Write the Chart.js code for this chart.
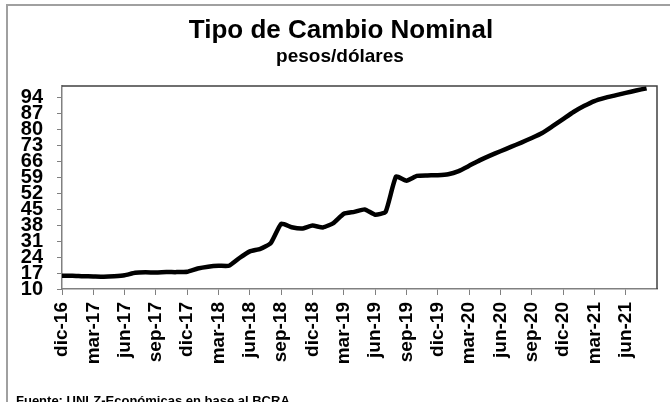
<!DOCTYPE html>
<html>
<head>
<meta charset="utf-8">
<script src="https://cdn.jsdelivr.net/npm/chart.js@4/dist/chart.umd.min.js"></script>
<style>
  html, body { margin: 0; padding: 0; background: #fff; }
  #wrap { position: relative; width: 670px; height: 402px; overflow: hidden; }
</style>
</head>
<body>
<div id="wrap"><canvas id="myChart" width="670" height="402"></canvas></div>
<script>
const months = [
  'dic-16',
  'ene-17','feb-17','mar-17','abr-17','may-17','jun-17','jul-17','ago-17','sep-17','oct-17','nov-17','dic-17',
  'ene-18','feb-18','mar-18','abr-18','may-18','jun-18','jul-18','ago-18','sep-18','oct-18','nov-18','dic-18',
  'ene-19','feb-19','mar-19','abr-19','may-19','jun-19','jul-19','ago-19','sep-19','oct-19','nov-19','dic-19',
  'ene-20','feb-20','mar-20','abr-20','may-20','jun-20','jul-20','ago-20','sep-20','oct-20','nov-20','dic-20',
  'ene-21','feb-21','mar-21','abr-21','may-21','jun-21','jul-21','ago-21','sep-21'
];

// pesos por dólar
const tipoCambio = [
  15.8,
  15.8, 15.6, 15.5, 15.4, 15.6, 16.0, 17.1, 17.3, 17.2, 17.4, 17.4, 17.6,
  19.0, 19.8, 20.2, 20.2, 23.6, 26.5, 27.6, 30.1, 38.6, 37.1, 36.5, 37.8,
  37.0, 38.9, 43.0, 43.8, 44.9, 42.6, 43.8, 59.3, 57.5, 59.6, 59.8, 59.9,
  60.3, 61.7, 64.0, 66.4, 68.5, 70.4, 72.3, 74.2, 76.2, 78.4, 81.4, 84.5,
  87.6, 90.2, 92.4, 93.8, 94.9, 96.0, 97.0, 98.0, null
];

const yTicks = [10, 17, 24, 31, 38, 45, 52, 59, 66, 73, 80, 87, 94];

const titulo = 'Tipo de Cambio Nominal';
const subtitulo = 'pesos/dólares';
const fuente = 'Fuente: UNLZ-Económicas en base al BCRA';

const FONT = "'Liberation Sans', Arial, sans-serif";

// marco exterior, titulos y fuente
const decor = {
  id: 'decor',
  beforeDraw(chart) {
    const c = chart.ctx;
    c.save();
    c.fillStyle = '#fff';
    c.fillRect(0, 0, chart.width, chart.height);
    c.strokeStyle = '#a0a0a0';
    c.lineWidth = 2;
    c.strokeRect(7, 5, 700, 500);
    c.fillStyle = '#000';
    c.textAlign = 'center';
    c.textBaseline = 'alphabetic';
    c.font = 'bold 26px ' + FONT;
    c.fillText(titulo, 341, 38);
    c.font = 'bold 19px ' + FONT;
    c.fillText(subtitulo, 340, 62);
    c.textAlign = 'left';
    c.font = 'bold 13px ' + FONT;
    c.fillText(fuente, 16, 405);
    c.restore();
  },
  afterDraw(chart) {
    const a = chart.chartArea;
    const c = chart.ctx;
    c.save();
    c.strokeStyle = '#404040';
    c.lineWidth = 1.5;
    c.beginPath();
    c.moveTo(a.left, a.top);
    c.lineTo(a.right, a.top);
    c.lineTo(a.right, a.bottom);
    c.stroke();
    c.restore();
  }
};

const ctx = document.getElementById('myChart').getContext('2d');
const chart = new Chart(ctx, {
  type: 'line',
  data: {
    labels: months,
    datasets: [{
      data: tipoCambio,
      borderColor: '#000',
      borderWidth: 4.5,
      pointRadius: 0,
      tension: 0.15,
      fill: false
    }]
  },
  options: {
    responsive: false,
    animation: false,
    layout: { padding: { top: 86, right: 13, bottom: 0, left: 0 } },
    plugins: {
      legend: { display: false },
      tooltip: { enabled: false }
    },
    scales: {
      x: {
        offset: false,
        grid: {
          drawOnChartArea: false,
          tickLength: 6,
          tickColor: (c) => (c.index % 3 === 0 && c.index < months.length - 1) ? '#808080' : 'rgba(0,0,0,0)'
        },
        border: { color: '#808080', width: 1.5 },
        ticks: {
          autoSkip: false,
          maxRotation: 90,
          minRotation: 90,
          padding: 7,
          color: '#000',
          font: { family: FONT, size: 19, weight: 'bold' },
          callback: function (v, i) {
            return (i % 3 === 0 && i < months.length - 1) ? months[i] : '';
          }
        },
        afterFit: (s) => { s.height = 113; s.paddingLeft = 0; s.paddingRight = 0; }
      },
      y: {
        min: 10,
        max: 99,
        grid: { drawOnChartArea: false, tickLength: 5, tickColor: '#808080' },
        border: { color: '#808080', width: 1.5 },
        afterBuildTicks: (s) => { s.ticks = yTicks.map(v => ({ value: v })); },
        ticks: {
          autoSkip: false,
          padding: 14,
          color: '#000',
          font: { family: FONT, size: 20, weight: 'bold', lineHeight: 0.8 }
        },
        afterFit: (s) => { s.width = 62; s.paddingTop = 0; s.paddingBottom = 0; }
      }
    }
  },
  plugins: [decor]
});
</script>
</body>
</html>
